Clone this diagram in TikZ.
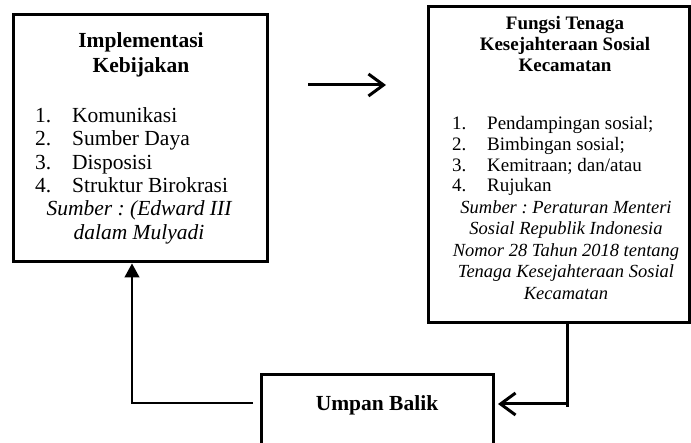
\documentclass[tikz,border=0pt]{standalone}
\usepackage{fontspec}
\setmainfont{Liberation Serif}
\usetikzlibrary{arrows.meta}
\frenchspacing
\begin{document}
\begin{tikzpicture}[x=1pt,y=-1pt,
  box/.style={draw,line width=3pt,inner sep=0pt},
  txt/.style={font=\fontsize{21.5}{24}\selectfont,inner sep=0pt,anchor=base},
  ltxt/.style={txt,anchor=base west},
  btxt/.style={txt,font=\fontsize{21.5}{24}\selectfont\bfseries},
  itxt/.style={txt,font=\fontsize{21.5}{24}\selectfont\itshape},
  rtxt/.style={inner sep=0pt,font=\fontsize{19}{21}\selectfont,anchor=base west},
  rbtxt/.style={inner sep=0pt,font=\fontsize{19}{21}\selectfont\bfseries,anchor=base},
  ritxt/.style={inner sep=0pt,font=\fontsize{18.5}{21}\selectfont\itshape,anchor=base},
  thick line/.style={line width=3pt},
  thin line/.style={line width=1.3pt},
  openhead/.style={-{Straight Barb[length=15pt,width=22pt,line width=3pt]}},
  filledhead/.style={-{Triangle[length=14pt,width=15pt]}}]
\useasboundingbox (0,0) rectangle (691,443);
\clip (0,0) rectangle (691,443);

% boxes
\node[box,minimum width=254pt,minimum height=247pt] (impl) at (140,138.5) {};
\node[box,minimum width=261pt,minimum height=316pt] (fungsi) at (558.5,165) {};
\node[box,minimum width=232pt,minimum height=100pt] (ub) at (377,425) {};

% left box text
\node[btxt] (t1) at (141,48) {Implementasi};
\node[btxt] (t2) at (141,73) {Kebijakan};
\node[ltxt] (n1) at (35,123) {1.};
\node[ltxt] (l1) at (72,123) {Komunikasi};
\node[ltxt] (n2) at (35,146) {2.};
\node[ltxt] (l2) at (72,146) {Sumber Daya};
\node[ltxt] (n3) at (35,169.5) {3.};
\node[ltxt] (l3) at (72,169.5) {Disposisi};
\node[ltxt] (n4) at (35,193) {4.};
\node[ltxt] (l4) at (72,193) {Struktur Birokrasi};
\node[itxt] (s1) at (139,216) {Sumber : (Edward III};
\node[itxt] (s2) at (139,240) {dalam Mulyadi};

% right box text
\node[rbtxt] (f1) at (565,30) {Fungsi Tenaga};
\node[rbtxt] (f2) at (565,51) {Kesejahteraan Sosial};
\node[rbtxt] (f3) at (565,72) {Kecamatan};
\node[rtxt] (m1) at (452,130) {1.};
\node[rtxt] (k1) at (487,130) {Pendampingan sosial;};
\node[rtxt] (m2) at (452,151) {2.};
\node[rtxt] (k2) at (487,151) {Bimbingan sosial;};
\node[rtxt] (m3) at (452,171.5) {3.};
\node[rtxt] (k3) at (487,171.5) {Kemitraan; dan/atau};
\node[rtxt] (m4) at (452,192) {4.};
\node[rtxt] (k4) at (487,192) {Rujukan};
\node[ritxt] (r1) at (566,213.5) {Sumber : Peraturan Menteri};
\node[ritxt] (r2) at (566,235) {Sosial Republik Indonesia};
\node[ritxt] (r3) at (566,256.5) {Nomor 28 Tahun 2018 tentang};
\node[ritxt] (r4) at (566,278) {Tenaga Kesejahteraan Sosial};
\node[ritxt] (r5) at (566,299.5) {Kecamatan};

% bottom box text
\node[btxt] (u1) at (377,411) {Umpan Balik};

% connectors
\coordinate (a1) at (308,85);
\coordinate (a2) at (386,85);
\draw[thick line,openhead] (a1) -- (a2);

\coordinate (c1) at (253,403);
\coordinate (c2) at (132,403);
\draw[thin line,filledhead] (c1) -- (c2) -- (c2 |- impl.south);

\coordinate (d1) at (567,407);
\coordinate (d2) at (568.5,404);
\coordinate (d3) at (498,404);
\draw[thick line] (fungsi.south -| d1) -- (d1);
\draw[thick line,openhead] (d2) -- (d3);
\end{tikzpicture}
\end{document}
